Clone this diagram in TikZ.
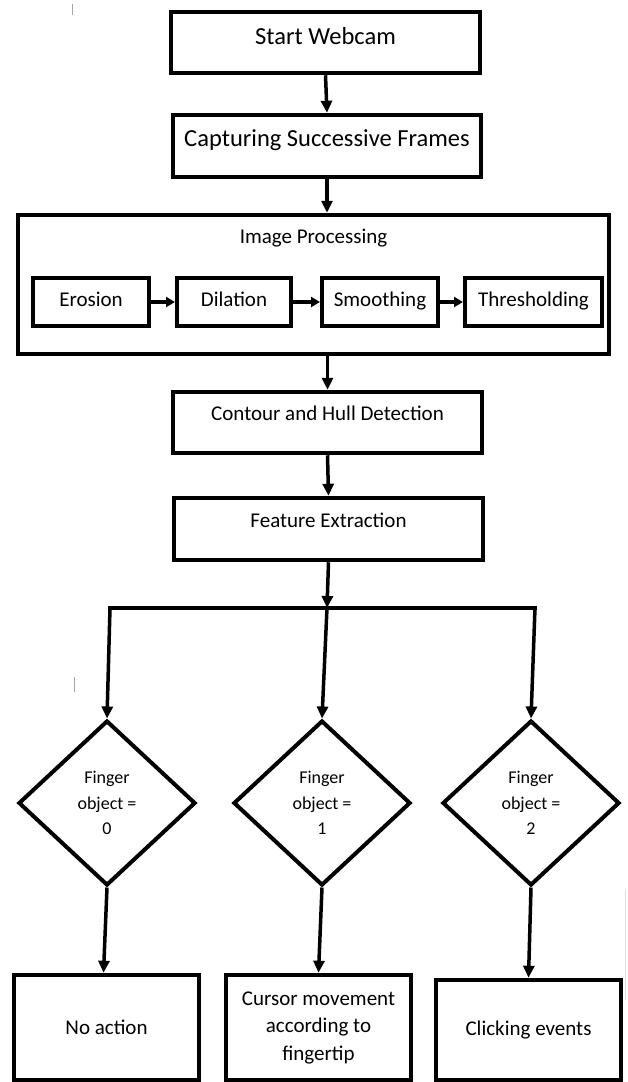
\documentclass[tikz,border=0pt]{standalone}
\usepackage{fontspec}
\setmainfont{Carlito}
\usetikzlibrary{arrows.meta,shapes.geometric}
\begin{document}
\begin{tikzpicture}[x=1pt,y=-1pt,
  box/.style={draw=black,line width=4.5pt,rectangle,inner sep=0pt},
  sbox/.style={draw=black,line width=4pt,rectangle,inner sep=0pt,minimum height=48pt,text height=16pt,text depth=7pt,font=\fontsize{21}{24}\selectfont},
  dia/.style={draw=black,line width=4pt,diamond,inner sep=0pt,minimum width=177pt,minimum height=165pt,align=center,font=\fontsize{18}{25.5}\selectfont},
  rbox/.style={draw=black,line width=4.5pt,rectangle,inner sep=0pt,minimum width=185pt,align=center,font=\fontsize{21}{27.5}\selectfont},
  arr/.style={line width=3.5pt,-{Triangle[length=12pt,width=11pt]}},
  sarr/.style={line width=4pt,-{Triangle[length=9pt,width=10pt]}},
  ln/.style={line width=3.5pt},
  lbl/.style={inner sep=0pt,align=center},
  big/.style={font=\fontsize{24.5}{28}\selectfont},
  mid/.style={font=\fontsize{21}{24}\selectfont}]
\useasboundingbox[fill=white] (0,0) rectangle (627,1082);

% stray scan marks
\draw[gray!70,line width=1pt] (72,4) -- (72,15);
\draw[gray!70,line width=1pt] (74,677) -- (74,692);
\draw[gray!25,line width=1pt] (625,890) -- (625,1000);

% top boxes
\node[box,minimum width=309pt,minimum height=61pt] (sw) at (325.5,42.5) {};
\node[lbl,big] (swt) at (325.5,36) {Start Webcam};
\node[box,minimum width=308pt,minimum height=62pt] (cap) at (327,146) {};
\node[lbl,big] (capt) at (327,140) {Capturing Successive Frames};

% image processing
\node[box,minimum width=591pt,minimum height=139pt] (ip) at (313.5,284.5) {};
\node[lbl,mid] (ipt) at (313.5,238) {Image Processing};
\node[sbox,minimum width=116pt] (er) at (91,302) {Erosion};
\node[sbox,minimum width=114pt] (di) at (234,302) {Dilation};
\node[sbox,minimum width=116pt] (sm) at (380,302) {Smoothing};
\node[sbox,minimum width=137pt] (th) at (533.5,302) {Thresholding};

% contour / feature
\node[box,minimum width=309pt,minimum height=61pt] (ch) at (327.5,422.5) {};
\node[lbl,mid] (cht) at (327.5,413) {Contour and Hull Detection};
\node[box,minimum width=309pt,minimum height=62pt] (fe) at (328.5,529) {};
\node[lbl,mid] (fet) at (328.5,520) {Feature Extraction};

% decisions
\node[dia] (d0) at (107,803) {Finger\\object =\\0};
\node[dia] (d1) at (322,803) {Finger\\object =\\1};
\node[dia] (d2) at (531,803) {Finger\\object =\\2};

% results
\node[rbox,minimum height=105pt] (r0) at (106.5,1027.5) {No action};
\node[rbox,minimum height=105pt] (r1) at (318.5,1027.5) {Cursor movement\\according to\\fingertip};
\node[rbox,minimum height=100pt] (r2) at (528.5,1030) {Clicking events};

% connectors
\draw[arr] (sw.south) -- (cap.north);
\draw[arr] (cap.south) -- (cap.south |- ip.north);
\draw[sarr] (er.east) -- (di.west);
\draw[sarr] (di.east) -- (sm.west);
\draw[sarr] (sm.east) -- (th.west);
\draw[arr] (ch.north |- ip.south) -- (ch.north);
\draw[arr] (ch.south) -- (fe.north);

\coordinate (bm) at (327,608);
\coordinate (bl) at (110,608);
\coordinate (br) at (535,608);
\draw[arr] (fe.south) -- (bm);
\draw[ln] ([xshift=-1.75pt]bl) -- ([xshift=1.75pt]br);
\draw[arr] (bl) -- (d0.north);
\draw[arr] (bm) -- (d1.north);
\draw[arr] (br) -- (d2.north);

\draw[arr] (d0.south) -- ([xshift=-3pt]r0.north);
\draw[arr] (d1.south) -- (r1.north);
\draw[arr] (d2.south) -- (r2.north);
\end{tikzpicture}
\end{document}
